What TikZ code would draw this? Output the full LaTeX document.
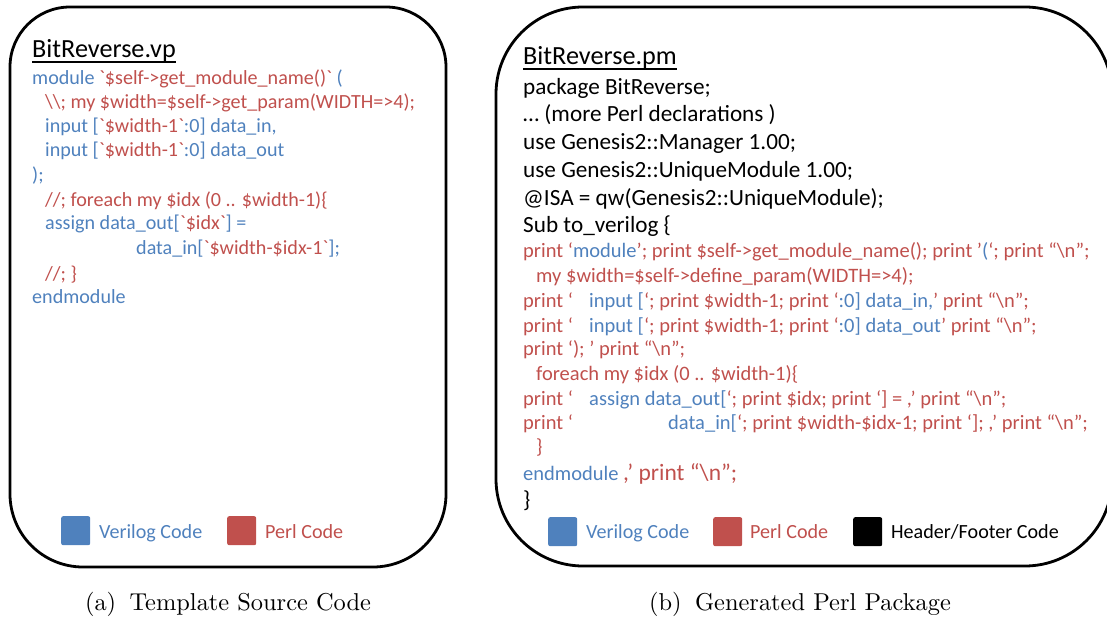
\documentclass[tikz,border=0pt]{standalone}
\usepackage{fontspec}
\newfontfamily\calibri{Carlito}[Ligatures=TeXOff]
\newfontfamily\capfont{lmroman10-regular.otf}
\definecolor{vblue}{HTML}{4F81BD}
\definecolor{pred}{HTML}{C0504D}
\newcommand\Vtx[1]{\textcolor{vblue}{#1}}
\newcommand\Ptx[1]{\textcolor{pred}{#1}}
\newcommand\bsl{\textbackslash}
\begin{document}
\begin{tikzpicture}[x=1pt,y=-1pt,
  frame/.style={line width=2.8pt, draw=black},
  code/.style={anchor=base west, inner sep=0pt, font=\calibri\fontsize{20.1}{24}\selectfont},
  rcode/.style={code, font=\calibri\fontsize{20.5}{24}\selectfont},
  hdr/.style={code, font=\calibri\fontsize{23.2}{28}\selectfont},
  ttl/.style={code, font=\calibri\fontsize{26.2}{31}\selectfont},
  uline/.style={line width=1.8pt},
  swatch/.style={rounded corners=2pt, minimum width=29pt, minimum height=29pt, inner sep=0pt, anchor=north west},
  captxt/.style={anchor=base, inner sep=0pt, font=\capfont\fontsize{24.4}{29}\selectfont}]
\useasboundingbox (0,0) rectangle (1107,617);

% ---------- (a) template source ----------
\draw[frame] (228,7) [rounded corners=60pt] -- (446,7) -- (446,300)
  [rounded corners=73pt] -- (446,567) -- (10,567) -- (10,300)
  [rounded corners=60pt] -- (10,7) -- cycle;

\node[ttl] (lt) at (32,58) {BitReverse.vp};
\draw[uline] ([yshift=-4pt]lt.base west) -- ([yshift=-4pt]lt.base east);

\node[code] (l1) at (32,85) {\Vtx{module\ }\Ptx{`\$self->get\_module\_name()`}\Vtx{\ (}};
\node[code] (l2) at (45,109) {\Ptx{\bsl\bsl; my \$width=\$self->get\_param(WIDTH=>4);}};
\node[code] (l3) at (45,133) {\Vtx{input [}\Ptx{`\$width-1`}\Vtx{:0] data\_in,}};
\node[code] (l4) at (45,157) {\Vtx{input [}\Ptx{`\$width-1`}\Vtx{:0] data\_out}};
\node[code] (l5) at (32,182) {\Vtx{);}};
\node[code] (l6) at (45,207) {\Ptx{//; foreach my \$idx (0 .. \$width-1)\{}};
\node[code] (l7) at (45,230) {\Vtx{assign data\_out[}\Ptx{`\$idx`}\Vtx{] =}};
\node[code] (l8) at (136,255) {\Vtx{data\_in[}\Ptx{`\$width-\$idx-1`}\Vtx{];}};
\node[code] (l9) at (45,280) {\Ptx{//; \}}};
\node[code] (l10) at (32,304) {\Vtx{endmodule}};

\node[swatch, fill=vblue] (lsv) at (61,516) {};
\node[code, text=vblue] (llv) at (99,538) {Verilog Code};
\node[swatch, fill=pred] (lsp) at (227,516) {};
\node[code, text=pred] (llp) at (265,538) {Perl Code};

\node[captxt] (capa) at (228,610) {(a)\hspace{0.55em}Template Source Code};

% ---------- (b) generated perl package ----------
\draw[frame, rounded corners=87pt] (496,7) rectangle (1112,566);

\node[ttl] (rt) at (523,65) {BitReverse.pm};
\draw[uline] ([yshift=-4pt]rt.base west) -- ([yshift=-4pt]rt.base east);

\node[hdr] (h1) at (523,95) {package BitReverse;};
\node[hdr] (h2) at (523,122) {… (more Perl declarations )};
\node[hdr] (h3) at (523,150) {use Genesis2::Manager 1.00;};
\node[hdr] (h4) at (523,178) {use Genesis2::UniqueModule 1.00;};
\node[hdr] (h5) at (523,206) {@ISA = qw(Genesis2::UniqueModule);};
\node[hdr] (h6) at (523,233) {Sub to\_verilog \{};

\node[rcode] (r1) at (523,258) {\Ptx{print ‘}\Vtx{module}\Ptx{’; print \$self->get\_module\_name(); print ’}\Vtx{(}\Ptx{‘; print “\bsl n”;}};
\node[rcode] (r2) at (536,283) {\Ptx{my \$width=\$self->define\_param(WIDTH=>4);}};
\node[rcode] (r3) at (523,307) {\makebox[66pt][l]{\Ptx{print ‘}}\Vtx{input [}\Ptx{‘; print \$width-1; print ‘}\Vtx{:0] data\_in,}\Ptx{’ print “\bsl n”;}};
\node[rcode] (r4) at (523,332) {\makebox[66pt][l]{\Ptx{print ‘}}\Vtx{input [}\Ptx{‘; print \$width-1; print ‘}\Vtx{:0] data\_out}\Ptx{’ print “\bsl n”;}};
\node[rcode] (r5) at (523,355) {\Ptx{print ‘); ’ print “\bsl n”;}};
\node[rcode] (r6) at (536,380) {\Ptx{foreach my \$idx (0 .. \$width-1)\{}};
\node[rcode] (r7) at (523,405) {\makebox[66pt][l]{\Ptx{print ‘}}\Vtx{assign data\_out[}\Ptx{‘; print \$idx; print ‘] = ,’ print “\bsl n”;}};
\node[rcode] (r8) at (523,429) {\makebox[145pt][l]{\Ptx{print ‘}}\Vtx{data\_in[}\Ptx{‘; print \$width-\$idx-1; print ‘]; ,’ print “\bsl n”;}};
\node[rcode] (r9) at (536,453) {\Ptx{\}}};
\node[rcode] (r10) at (523,480) {\Vtx{endmodule\ }{\fontsize{23.5}{28}\selectfont\Ptx{,’ print “\bsl n”;}}};
\node[hdr] (r11) at (523,507) {\}};

\node[swatch, fill=vblue] (rsv) at (548,517) {};
\node[code, text=vblue] (rlv) at (586,538) {Verilog Code};
\node[swatch, fill=pred] (rsp) at (713,517) {};
\node[code, text=pred] (rlp) at (750,538) {Perl Code};
\node[swatch, fill=black] (rsh) at (853,517) {};
\node[code] (rlh) at (891,538) {Header/Footer Code};

\node[captxt] (capb) at (800,610) {(b)\hspace{0.55em}Generated Perl Package};
\end{tikzpicture}
\end{document}
